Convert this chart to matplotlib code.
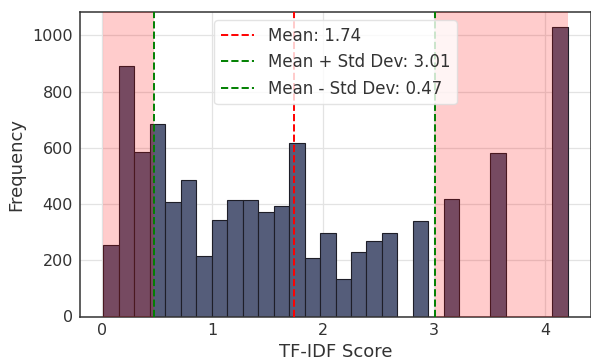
#!/usr/bin/env python3
"""TF-IDF score distribution with mean / std dev markers"""
import numpy as np
import matplotlib
matplotlib.use('Agg')
import matplotlib.pyplot as plt

# histogram counts per bin (30 equal bins between score_min and score_max)
counts = [255, 890, 586, 684, 406, 485, 214, 343, 416, 416,
          373, 393, 619, 209, 296, 134, 229, 270, 298, 0,
          340, 0, 418, 0, 0, 581, 0, 0, 0, 1032]
score_min = 0.015
score_max = 4.206
mean_score = 1.74
std_score = 1.27
x_ticks = [0, 1, 2, 3, 4]
y_ticks = [0, 200, 400, 600, 800, 1000]

edges = np.linspace(score_min, score_max, len(counts) + 1)

fig = plt.figure(figsize=(5.91, 3.58), dpi=100)
ax = fig.add_axes([80 / 591, 41.5 / 358, 511 / 591, 304.5 / 358])

ax.set_axisbelow(True)
ax.grid(True, color='#e3e3e3', linewidth=0.9)

# histogram bars
ax.bar(edges[:-1], counts, width=np.diff(edges), align='edge',
       color='#555d7a', edgecolor='#1e1e28', linewidth=0.8, zorder=2)

# mean and +/- std lines
ax.axvline(mean_score, color='red', linestyle='--', linewidth=1.4,
           label=f'Mean: {mean_score:.2f}', zorder=4)
ax.axvline(mean_score + std_score, color='green', linestyle='--', linewidth=1.4,
           label=f'Mean + Std Dev: {mean_score + std_score:.2f}', zorder=4)
ax.axvline(mean_score - std_score, color='green', linestyle='--', linewidth=1.4,
           label=f'Mean - Std Dev: {mean_score - std_score:.2f}', zorder=4)

# shade the outlier regions
ax.axvspan(score_min, mean_score - std_score, color='red', alpha=0.2,
           linewidth=0, zorder=3)
ax.axvspan(mean_score + std_score, score_max, color='red', alpha=0.2,
           linewidth=0, zorder=3)

ax.set_xticks(x_ticks)
ax.set_yticks(y_ticks)
ax.tick_params(length=0, pad=5, labelsize=11.5, colors='#333333')
for s in ax.spines.values():
    s.set_color('#333333')
    s.set_linewidth(1.1)

ax.set_xlabel('TF-IDF Score', fontsize=13, color='#333333', labelpad=3)
ax.set_ylabel('Frequency', fontsize=13, color='#333333', labelpad=5)

leg = ax.legend(loc='upper center', fontsize=12, handlelength=2.0,
                framealpha=0.8, edgecolor='#dddddd')
for t in leg.get_texts():
    t.set_color('#333333')

fig.savefig('out.png', dpi=100)
